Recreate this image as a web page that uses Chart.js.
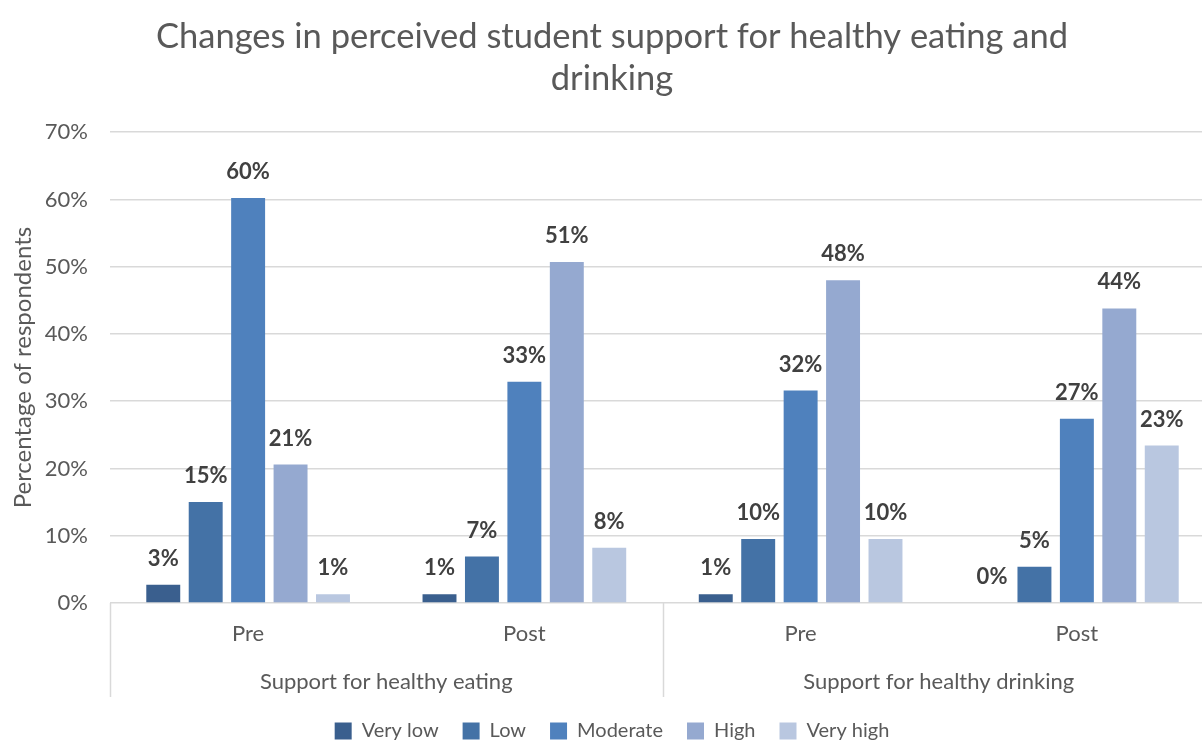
<!DOCTYPE html>
<html>
<head>
<meta charset="utf-8">
<script src="https://cdn.jsdelivr.net/npm/chart.js@4"></script>
<style>
  html, body { margin: 0; padding: 0; background: #fff; overflow: hidden; }
  #wrap { width: 1215px; height: 742px; }
</style>
</head>
<body>
<div id="wrap"><canvas id="chart"></canvas></div>
<script>
// data
var periods = ["Pre", "Post", "Pre", "Post"];
var groups = ["Support for healthy eating", "Support for healthy drinking"];
var levels = ["Very low", "Low", "Moderate", "High", "Very high"];
var veryLow = [0.027, 0.013, 0.013, 0.0];
var low = [0.150, 0.069, 0.095, 0.054];
var moderate = [0.602, 0.329, 0.316, 0.274];
var high = [0.206, 0.507, 0.480, 0.438];
var veryHigh = [0.013, 0.082, 0.095, 0.234];
var yTicks = [0, 0.1, 0.2, 0.3, 0.4, 0.5, 0.6, 0.7];

var colors = ["#3a5f8e", "#4472a6", "#4f81bd", "#95a9d0", "#b9c7e0"];
var series = [veryLow, low, moderate, high, veryHigh];
var FONT = "Lato, 'Noto Sans', sans-serif";
var GRID = "#d9d9d9";
var TEXT = "#595959";

var datasets = series.map(function (vals, i) {
  return {
    label: levels[i],
    data: vals,
    backgroundColor: colors[i],
    categoryPercentage: 0.768,
    barPercentage: 0.8
  };
});

// percentage labels above each bar
var barLabels = {
  id: "barLabels",
  afterDatasetsDraw: function (chart) {
    var ctx = chart.ctx;
    ctx.save();
    ctx.font = "bold 22px " + FONT;
    ctx.fillStyle = "#404040";
    ctx.textAlign = "center";
    ctx.textBaseline = "bottom";
    chart.data.datasets.forEach(function (ds, i) {
      var meta = chart.getDatasetMeta(i);
      meta.data.forEach(function (bar, j) {
        ctx.fillText(Math.round(ds.data[j] * 100) + "%", bar.x, bar.y - 15);
      });
    });
    ctx.restore();
  }
};

// vertical dividers of the two-level category axis
var groupDividers = {
  id: "groupDividers",
  afterDraw: function (chart) {
    var x = chart.scales.x, x2 = chart.scales.x2;
    var half = (x.getPixelForValue(1) - x.getPixelForValue(0)) / 2;
    var ctx = chart.ctx;
    ctx.save();
    ctx.strokeStyle = GRID;
    ctx.lineWidth = 1.5;
    [0, 2, 4].forEach(function (i) {
      var px = Math.round(x.getPixelForValue(0) - half + i * 2 * half) + 0.5;
      ctx.beginPath();
      ctx.moveTo(px, x.top);
      ctx.lineTo(px, x2.bottom);
      ctx.stroke();
    });
    ctx.restore();
  }
};

var chart = new Chart(document.getElementById("chart"), {
  type: "bar",
  data: { labels: periods, datasets: datasets },
  plugins: [barLabels, groupDividers],
  options: {
    responsive: true,
    maintainAspectRatio: false,
    animation: false,
    layout: { padding: { top: 2, right: 0, bottom: -9, left: 9 } },
    plugins: {
      title: {
        display: true,
        text: ["Changes in perceived student support for healthy eating and", "drinking"],
        font: { family: FONT, size: 34.5, weight: "normal", lineHeight: 1.22 },
        color: TEXT,
        padding: { top: 14, bottom: 32 }
      },
      legend: {
        position: "bottom",
        labels: {
          boxWidth: 17,
          boxHeight: 17,
          padding: 24,
          color: TEXT,
          font: { family: FONT, size: 20 }
        }
      },
      tooltip: { enabled: false }
    },
    scales: {
      x: {
        weight: 0,
        afterFit: function (axis) { axis.height = 42; },
        grid: { display: false, drawTicks: false, tickLength: 0 },
        border: { display: false },
        ticks: { color: TEXT, font: { family: FONT, size: 22 }, padding: 18 }
      },
      x2: {
        type: "category",
        labels: groups,
        position: "bottom",
        weight: 1,
        offset: true,
        afterFit: function (axis) { axis.height = 52; },
        grid: { display: false, drawTicks: false, tickLength: 0 },
        border: { display: false },
        ticks: { color: TEXT, font: { family: FONT, size: 22 }, padding: 24 }
      },
      y: {
        min: 0,
        max: 0.7,
        afterFit: function (axis) { axis.width = 101; },
        afterBuildTicks: function (axis) {
          axis.ticks = yTicks.map(function (v) { return { value: v }; });
        },
        grid: { color: GRID, lineWidth: 1.5, drawTicks: false },
        border: { display: false },
        ticks: {
          color: TEXT,
          font: { family: FONT, size: 22 },
          padding: 22,
          callback: function (v) { return Math.round(v * 100) + "%"; }
        },
        title: {
          display: true,
          text: "Percentage of respondents",
          color: TEXT,
          font: { family: FONT, size: 24 },
          padding: { top: 0, bottom: 0 }
        }
      }
    }
  }
});
</script>
</body>
</html>
